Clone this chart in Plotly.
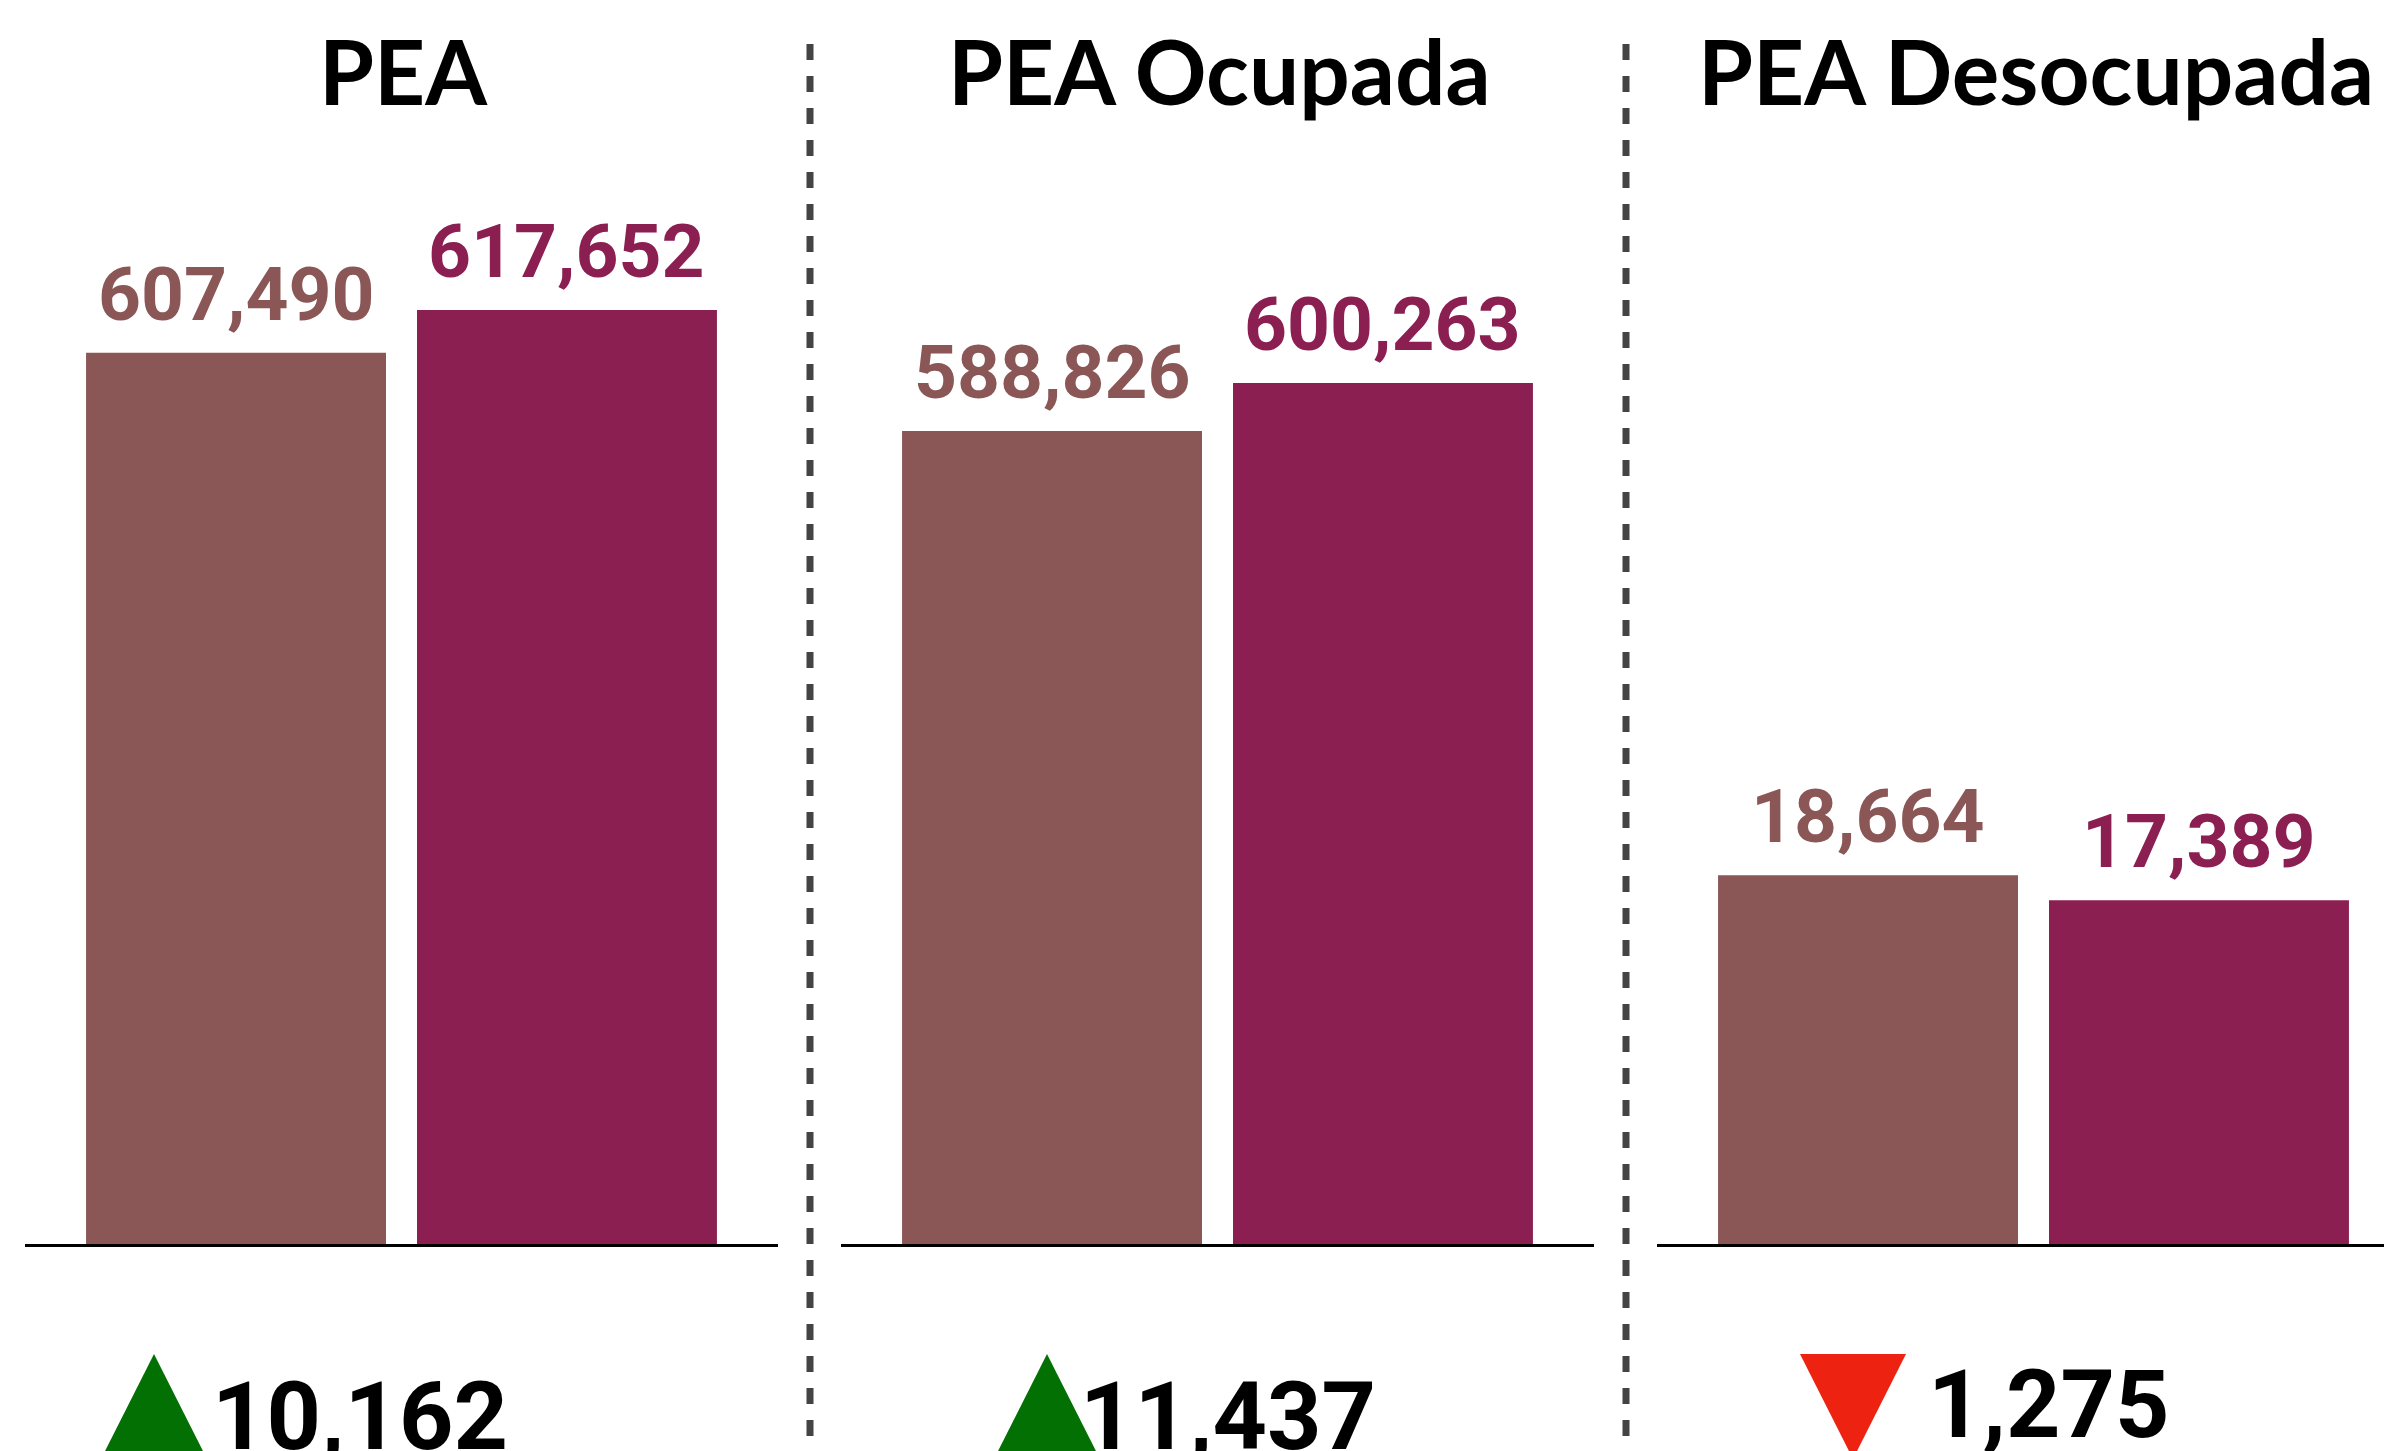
import plotly.graph_objects as go

# ---------------- data ----------------
panels = ["PEA", "PEA Ocupada", "PEA Desocupada"]
series_names = ["Periodo anterior", "Periodo actual"]
periodo_anterior = [607490, 588826, 18664]
periodo_actual = [617652, 600263, 17389]

# ---------------- style ----------------
W, H = 2392, 1451
color_prev = "#8A5756"
color_curr = "#8C1F51"
color_up = "#037003"
color_down = "#EE2211"
bargap = 0.121
bargroupgap = 0.0937


def px_x(x):
    return x / W


def px_y(y):
    return 1 - y / H


# panel geometry (pixels)
panel_left = [17, 833, 1649]
panel_width = 753
bottom_px = 1236
top_px = 100

# y ranges: first two panels share a truncated scale, third starts at zero
y_ranges = [[395000, 665822], [395000, 665822], [0, 57480]]

fig = go.Figure()

for i, name in enumerate(panels):
    ax = "" if i == 0 else str(i + 1)
    for vals, sname, col in [(periodo_anterior, series_names[0], color_prev),
                             (periodo_actual, series_names[1], color_curr)]:
        fig.add_trace(go.Bar(
            x=[name], y=[vals[i]], name=sname, marker=dict(color=col, line=dict(width=0)),
            xaxis="x" + ax, yaxis="y" + ax, showlegend=False, hoverinfo="skip",
        ))

layout = dict(
    width=W, height=H, margin=dict(l=0, r=0, t=0, b=0),
    paper_bgcolor="white", plot_bgcolor="white",
    barmode="group", bargap=bargap, bargroupgap=bargroupgap,
    showlegend=False,
)

for i in range(3):
    ax = "" if i == 0 else str(i + 1)
    left = panel_left[i]
    right = min(left + panel_width, W)
    xr_right = -0.5 + (right - left) / panel_width
    layout["xaxis" + ax] = dict(
        domain=[px_x(left), px_x(right)], range=[-0.5, xr_right],
        type="category", showline=True, linecolor="black", linewidth=3,
        showticklabels=False, ticks="", showgrid=False, zeroline=False,
        anchor="y" + ax, fixedrange=True,
    )
    layout["yaxis" + ax] = dict(
        domain=[px_y(bottom_px), px_y(top_px)], range=y_ranges[i],
        showline=False, showticklabels=False, ticks="", showgrid=False,
        zeroline=False, anchor="x" + ax, fixedrange=True,
    )

fig.update_layout(**layout)

annotations = []
shapes = []
offset = (1 - bargap) / 4
for i, name in enumerate(panels):
    ax = "" if i == 0 else str(i + 1)
    # titles
    annotations.append(dict(
        text=name, xref="paper", yref="paper",
        x=px_x(panel_left[i] + panel_width / 2 + 2), y=px_y(62),
        xanchor="center", yanchor="middle", showarrow=False,
        font=dict(family="Lato", size=89, color="black", weight="bold"),
    ))
    # value labels
    for k, (vals, col) in enumerate([(periodo_anterior, color_prev), (periodo_actual, color_curr)]):
        annotations.append(dict(
            text=f"{vals[i]:,}", xref="x" + ax, yref="y" + ax,
            x=(-offset if k == 0 else offset), y=vals[i],
            xanchor="center", yanchor="bottom", yshift=13, showarrow=False,
            font=dict(family="Roboto", size=75, color=col, weight="bold"),
        ))

# change indicators
tri_left = [93, 986, 1792]
text_left = [202, 1070, 1918]
text_center_y = [1408, 1408, 1396]
tri_w, tri_h = 106, 105
for i in range(3):
    delta = periodo_actual[i] - periodo_anterior[i]
    l = tri_left[i]
    r = l + tri_w
    c = (l + r) / 2
    top, bot = 1346, 1346 + tri_h
    if delta >= 0:
        pts = [(c, top), (r, bot), (l, bot)]
        col = color_up
    else:
        pts = [(l, top), (r, top), (c, bot)]
        col = color_down
    path = "M " + " L ".join(f"{px_x(px)},{px_y(py)}" for px, py in pts) + " Z"
    shapes.append(dict(type="path", xref="paper", yref="paper", path=path,
                       fillcolor=col, line=dict(width=0), layer="above"))
    annotations.append(dict(
        text=f"{abs(delta):,}", xref="paper", yref="paper",
        x=px_x(text_left[i]), y=px_y(text_center_y[i]),
        xanchor="left", yanchor="middle", showarrow=False,
        font=dict(family="Roboto", size=95, color="black", weight="bold"),
    ))

# dashed separators
for sx in [802, 1618]:
    shapes.append(dict(type="line", xref="paper", yref="paper",
                       x0=px_x(sx), x1=px_x(sx), y0=px_y(36), y1=0,
                       line=dict(color="#444444", width=7, dash="16px,16px")))

fig.update_layout(annotations=annotations, shapes=shapes)
fig.write_html("out.html")
